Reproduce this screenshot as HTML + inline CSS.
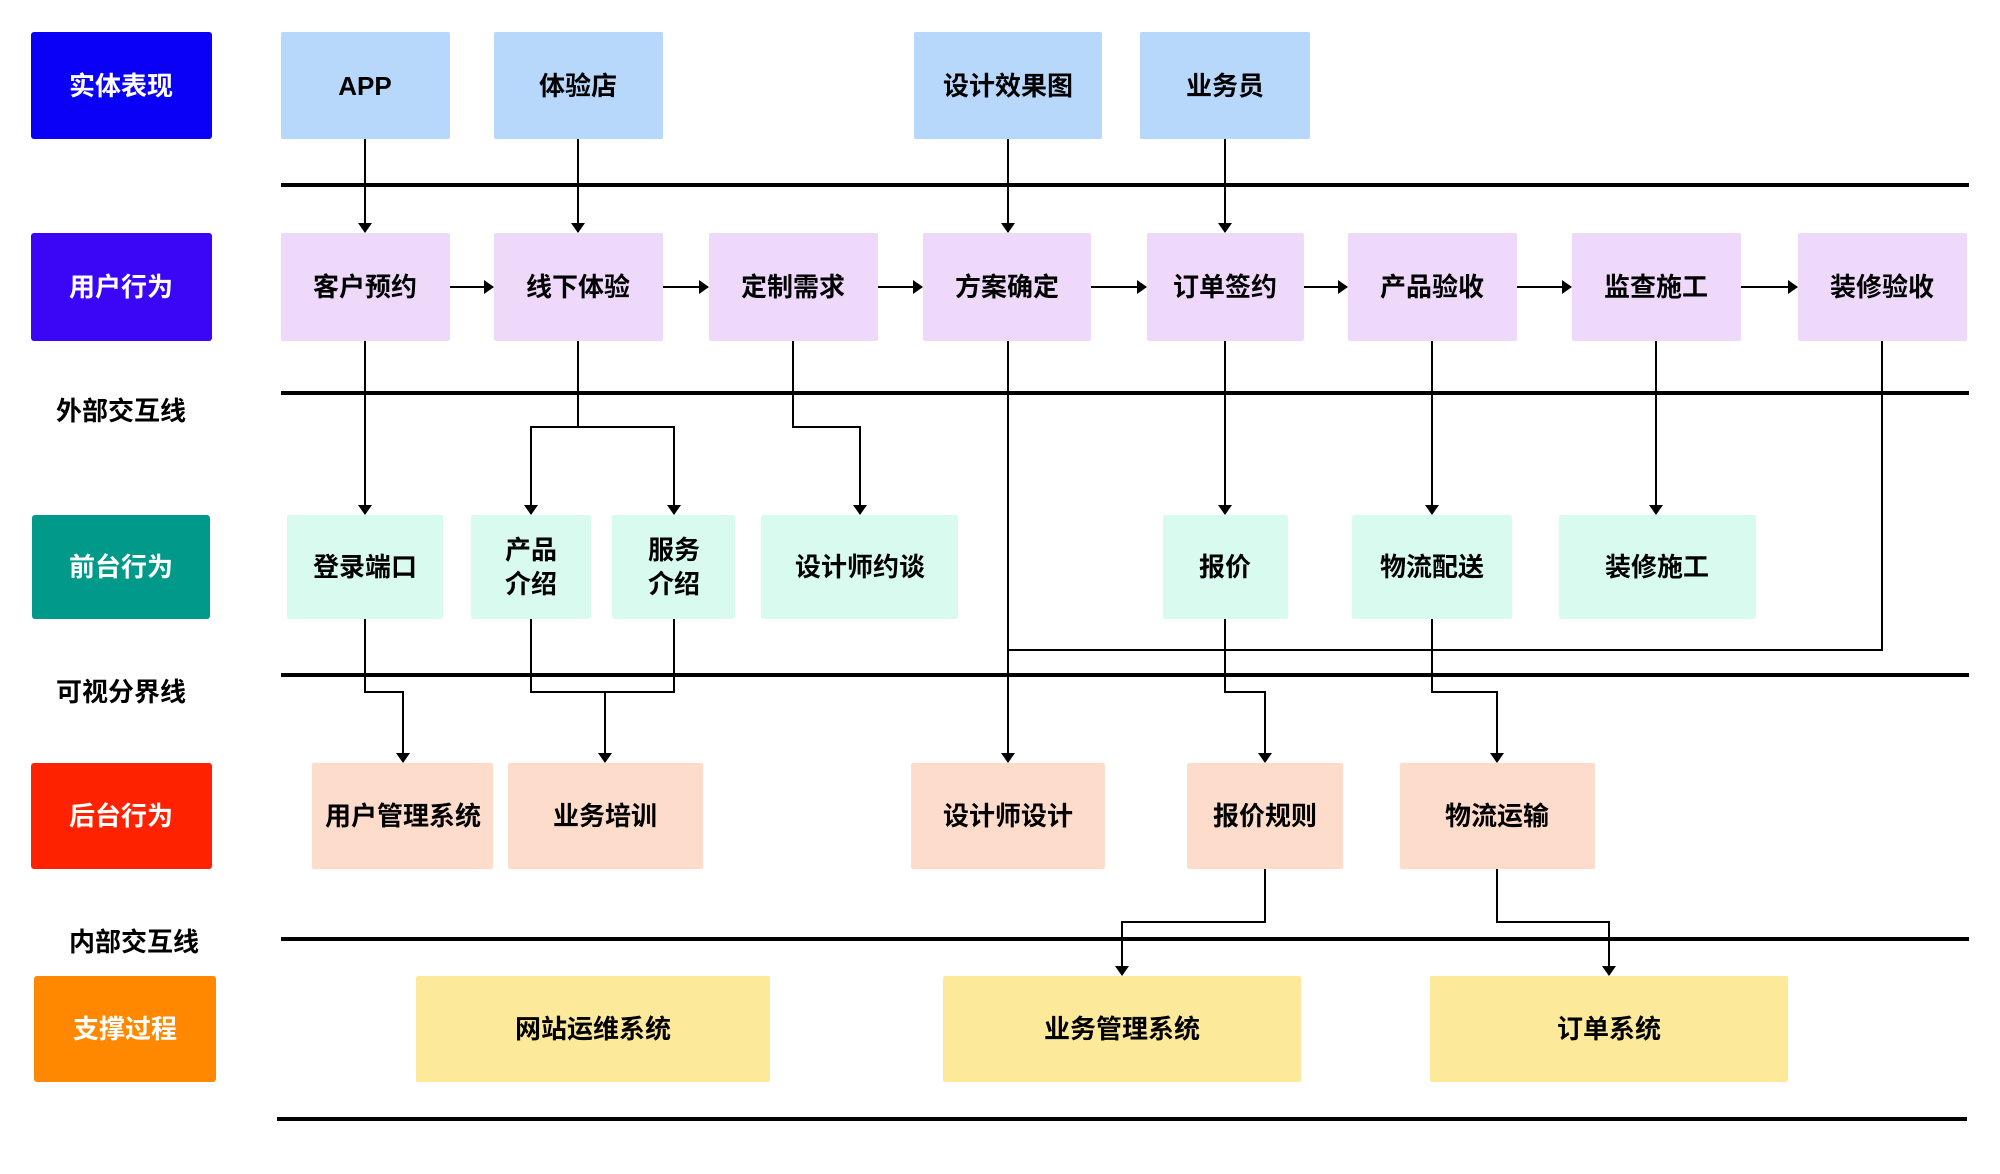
<!DOCTYPE html>
<html><head><meta charset="utf-8"><style>
html,body{margin:0;padding:0;background:#fff}
svg text{font-family:"Liberation Sans","Noto Sans CJK SC",sans-serif;font-weight:bold;font-size:26px;text-anchor:middle;dominant-baseline:central}
</style></head><body>
<svg width="2000" height="1169" viewBox="0 0 2000 1169" xmlns="http://www.w3.org/2000/svg">
<defs><marker id="a" markerWidth="10" markerHeight="14" refX="9" refY="7" orient="auto" markerUnits="userSpaceOnUse"><path d="M0,0 L10,7 L0,14 z" fill="#000"/></marker></defs>
<!-- swimlane lines -->
<g stroke="#000" stroke-width="4">
<line x1="281" y1="185" x2="1969" y2="185"/>
<line x1="281" y1="393" x2="1969" y2="393"/>
<line x1="281" y1="675" x2="1969" y2="675"/>
<line x1="281" y1="939" x2="1969" y2="939"/>
<line x1="277" y1="1119" x2="1967" y2="1119"/>
</g>
<!-- left headers -->
<g>
<rect x="31" y="32" width="181" height="107" rx="3" fill="#0a00f5"/><text x="121" y="86" fill="#fff">实体表现</text>
<rect x="31" y="233" width="181" height="108" rx="3" fill="#3a06f5"/><text x="121" y="287" fill="#fff">用户行为</text>
<text x="121" y="411">外部交互线</text>
<rect x="32" y="515" width="178" height="104" rx="3" fill="#00998a"/><text x="121" y="567" fill="#fff">前台行为</text>
<text x="121" y="692">可视分界线</text>
<rect x="31" y="763" width="181" height="106" rx="3" fill="#ff2200"/><text x="121" y="816" fill="#fff">后台行为</text>
<text x="134" y="942">内部交互线</text>
<rect x="34" y="976" width="182" height="106" rx="3" fill="#ff8800"/><text x="125" y="1029" fill="#fff">支撑过程</text>
</g>
<!-- row1 -->
<g fill="#b7d7fb">
<rect x="281" y="32" width="169" height="107" rx="2"/><rect x="494" y="32" width="169" height="107" rx="2"/>
<rect x="914" y="32" width="188" height="107" rx="2"/><rect x="1140" y="32" width="170" height="107" rx="2"/>
</g>
<text x="365" y="86">APP</text><text x="578" y="86">体验店</text><text x="1008" y="86">设计效果图</text><text x="1225" y="86">业务员</text>
<!-- row2 -->
<g fill="#eed9fb">
<rect x="281" y="233" width="169" height="108" rx="2"/><rect x="494" y="233" width="169" height="108" rx="2"/>
<rect x="709" y="233" width="169" height="108" rx="2"/><rect x="923" y="233" width="168" height="108" rx="2"/>
<rect x="1147" y="233" width="157" height="108" rx="2"/><rect x="1348" y="233" width="169" height="108" rx="2"/>
<rect x="1572" y="233" width="169" height="108" rx="2"/><rect x="1798" y="233" width="169" height="108" rx="2"/>
</g>
<text x="365" y="287">客户预约</text><text x="578" y="287">线下体验</text><text x="793" y="287">定制需求</text><text x="1007" y="287">方案确定</text>
<text x="1225" y="287">订单签约</text><text x="1432" y="287">产品验收</text><text x="1656" y="287">监查施工</text><text x="1882" y="287">装修验收</text>
<!-- row3 -->
<g fill="#d9fbef">
<rect x="287" y="515" width="156" height="104" rx="2"/><rect x="471" y="515" width="120" height="104" rx="2"/>
<rect x="612" y="515" width="123" height="104" rx="2"/><rect x="761" y="515" width="197" height="104" rx="2"/>
<rect x="1163" y="515" width="125" height="104" rx="2"/><rect x="1352" y="515" width="160" height="104" rx="2"/>
<rect x="1559" y="515" width="197" height="104" rx="2"/>
</g>
<text x="365" y="567">登录端口</text>
<text x="531" y="550">产品</text><text x="531" y="584">介绍</text>
<text x="674" y="550">服务</text><text x="674" y="584">介绍</text>
<text x="860" y="567">设计师约谈</text><text x="1225" y="567">报价</text><text x="1432" y="567">物流配送</text><text x="1657" y="567">装修施工</text>
<!-- row4 -->
<g fill="#fddccc">
<rect x="312" y="763" width="181" height="106" rx="2"/><rect x="508" y="763" width="195" height="106" rx="2"/>
<rect x="911" y="763" width="194" height="106" rx="2"/><rect x="1187" y="763" width="156" height="106" rx="2"/>
<rect x="1400" y="763" width="195" height="106" rx="2"/>
</g>
<text x="403" y="816">用户管理系统</text><text x="605" y="816">业务培训</text><text x="1008" y="816">设计师设计</text><text x="1265" y="816">报价规则</text><text x="1497" y="816">物流运输</text>
<!-- row5 -->
<g fill="#fde99a">
<rect x="416" y="976" width="354" height="106" rx="2"/><rect x="943" y="976" width="358" height="106" rx="2"/><rect x="1430" y="976" width="358" height="106" rx="2"/>
</g>
<text x="593" y="1029">网站运维系统</text><text x="1122" y="1029">业务管理系统</text><text x="1609" y="1029">订单系统</text>
<!-- connectors -->
<g stroke="#000" stroke-width="2" fill="none" marker-end="url(#a)">
<line x1="365" y1="139" x2="365" y2="232"/>
<line x1="578" y1="139" x2="578" y2="232"/>
<line x1="1008" y1="139" x2="1008" y2="232"/>
<line x1="1225" y1="139" x2="1225" y2="232"/>
<line x1="450" y1="287" x2="493" y2="287"/>
<line x1="663" y1="287" x2="708" y2="287"/>
<line x1="878" y1="287" x2="922" y2="287"/>
<line x1="1091" y1="287" x2="1146" y2="287"/>
<line x1="1304" y1="287" x2="1347" y2="287"/>
<line x1="1517" y1="287" x2="1571" y2="287"/>
<line x1="1741" y1="287" x2="1797" y2="287"/>
<line x1="365" y1="341" x2="365" y2="514"/>
<polyline points="578,341 578,427 531,427 531,514"/>
<polyline points="578,427 674,427 674,514"/>
<polyline points="793,341 793,427 860,427 860,514"/>
<line x1="1225" y1="341" x2="1225" y2="514"/>
<line x1="1432" y1="341" x2="1432" y2="514"/>
<line x1="1656" y1="341" x2="1656" y2="514"/>
<line x1="1008" y1="341" x2="1008" y2="762"/>
<polyline points="365,619 365,692 403,692 403,762"/>
<polyline points="531,619 531,692 605,692 605,762"/>
<polyline points="1225,619 1225,692 1265,692 1265,762"/>
<polyline points="1432,619 1432,692 1497,692 1497,762"/>
<polyline points="1265,869 1265,922 1122,922 1122,975"/>
<polyline points="1497,869 1497,922 1609,922 1609,975"/>
</g>
<g stroke="#000" stroke-width="2" fill="none">
<polyline points="674,619 674,692 605,692"/>
<polyline points="1882,341 1882,650 1008,650"/>
</g>
</svg>
</body></html>
